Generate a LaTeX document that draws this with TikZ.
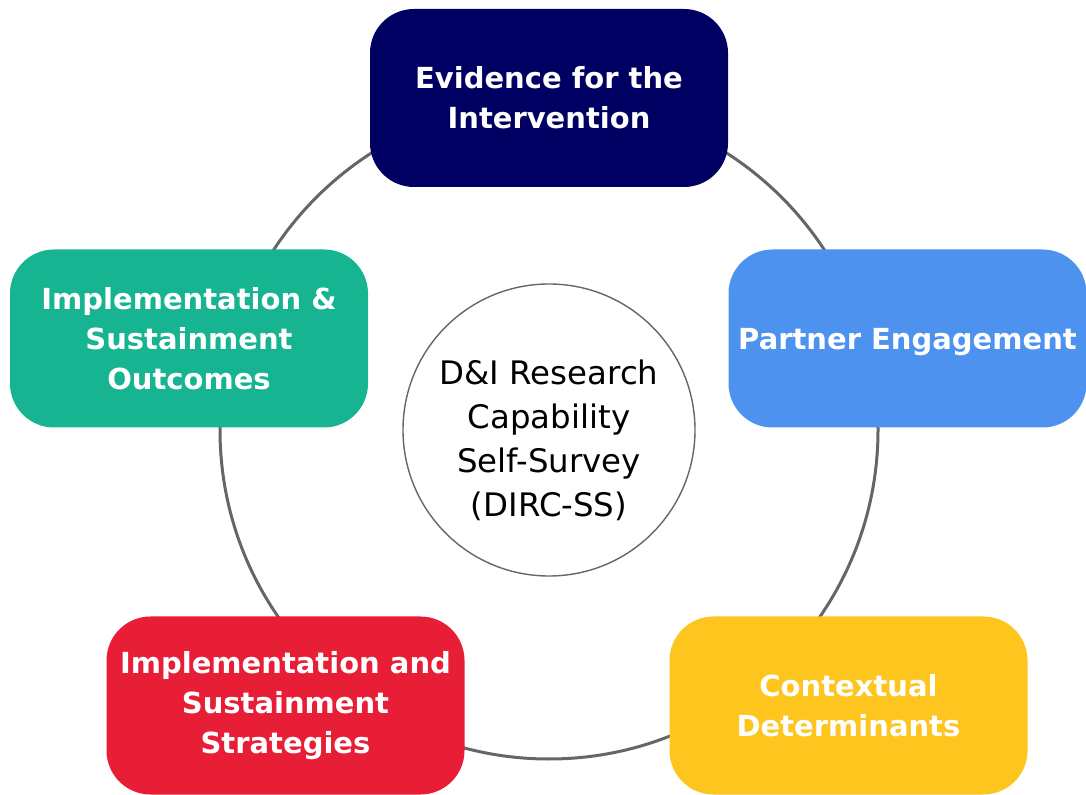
\documentclass[tikz,border=0pt]{standalone}
\usepackage{fontspec}
\setmainfont{DejaVu Sans}
\usepackage{tikz}
\usetikzlibrary{positioning, shapes}
\definecolor{evidblue}{HTML}{000062}
\definecolor{partblue}{HTML}{4D92EE}
\definecolor{outteal}{HTML}{17B491}
\definecolor{stratred}{HTML}{E81E37}
\definecolor{contyellow}{HTML}{FEC51E}
\definecolor{ringgray}{HTML}{666666}
\tikzstyle{dblock} = [rectangle, fill=evidblue, text=white, align=center,
minimum width=179pt, minimum height=89pt, rounded corners=22pt,
font=\fontsize{14.5}{20}\selectfont\bfseries]
\tikzstyle{ring} = [draw=ringgray, line width=1.5pt]

\begin{document}
\begin{tikzpicture}[x=0.5pt, y=-0.5pt]
        \useasboundingbox (0,0) rectangle (1086,795);
        \draw [ring] (549,430) circle (329);
        \node (survey) [circle, draw=ringgray, line width=0.7pt, fill=white, minimum size=146pt] at (549,430) {};
        \node (surveytext) [align=center, font=\fontsize{16.2}{22}\selectfont] at (549,440) {D\&I Research\\Capability\\Self-Survey\\(DIRC-SS)};
        \node (evid) [dblock] at (549,98) {Evidence for the\\Intervention};
        \node (partner) [dblock, fill=partblue] at (907.5,338.5) {\raisebox{0pt}[\height][0pt]{Partner Engagement}};
        \node (outcomes) [dblock, fill=outteal] at (189,338.5) {Implementation \&\\Sustainment\\Outcomes};
        \node (strategies) [dblock, fill=stratred] at (285.5,705.5) {Implementation and\\Sustainment\\Strategies};
        \node (context) [dblock, fill=contyellow] at (848.5,705.5) {Contextual\\Determinants};
\end{tikzpicture}
\end{document}
